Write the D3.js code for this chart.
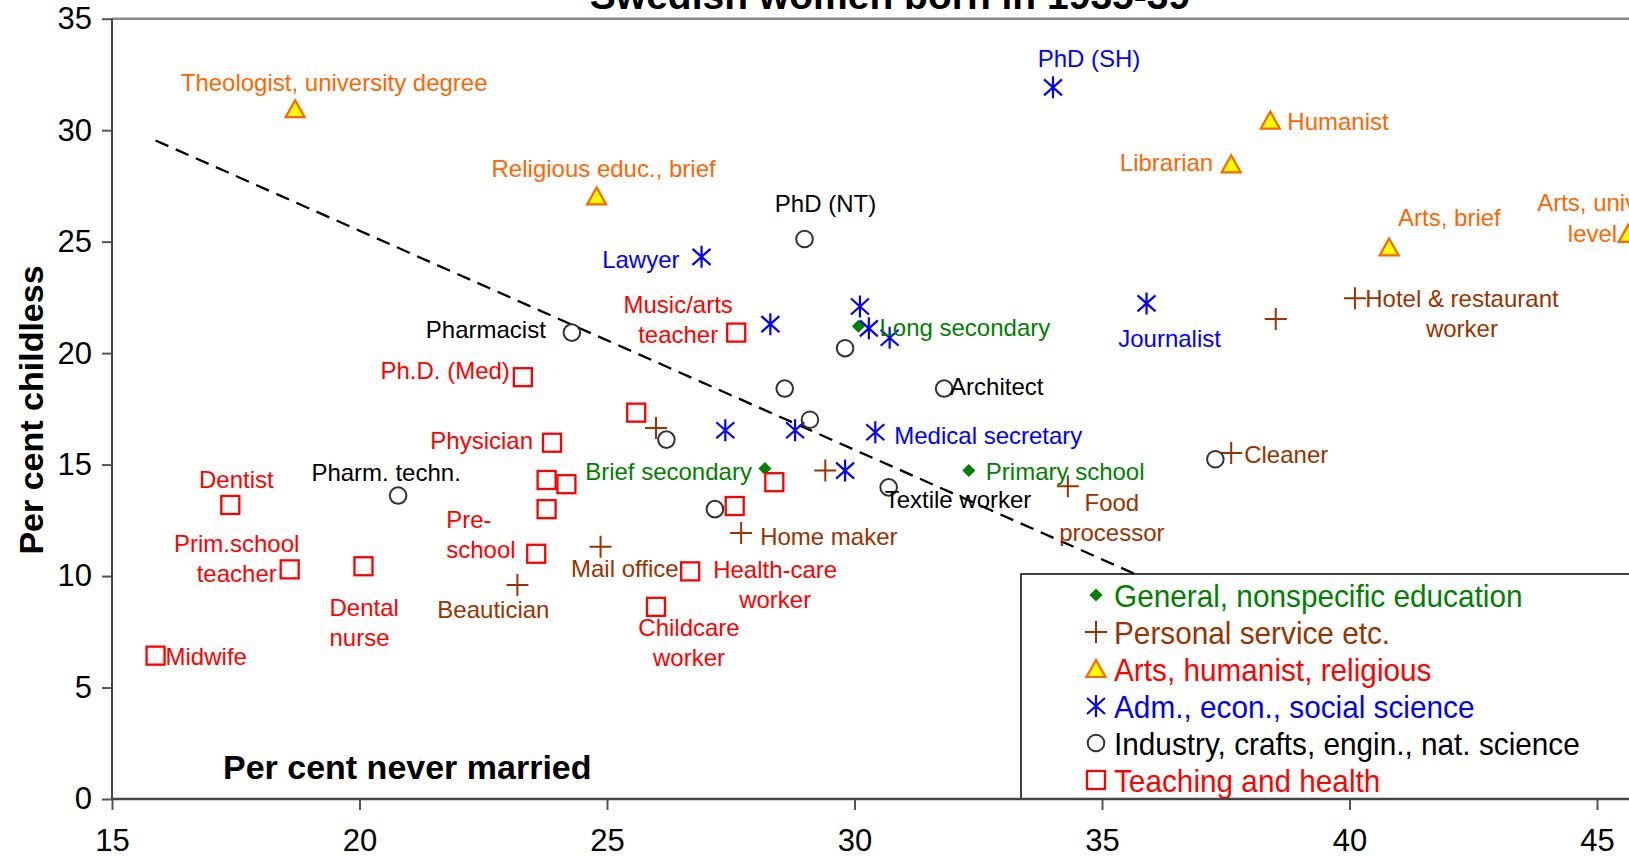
<!DOCTYPE html>
<html>
<head>
<meta charset="utf-8">
<script src="https://cdn.jsdelivr.net/npm/d3@7"></script>
<style>
  html, body { margin: 0; padding: 0; background: #fff; overflow: hidden; }
  text { font-family: "Liberation Sans", Arial, sans-serif; }
</style>
</head>
<body>
<div id="chart"></div>
<script>
// data: [label, per cent never married, per cent childless]
// "|" splits a label over two lines
var general = [
  ["Long secondary", 30.08, 21.2],
  ["Brief secondary", 28.19, 14.82],
  ["Primary school", 32.31, 14.73]
];
var personal = [
  ["Hotel & restaurant|worker", 40.11, 22.46],
  ["", 38.51, 21.53],
  ["Cleaner", 37.61, 15.52],
  ["", 25.99, 16.64],
  ["", 29.41, 14.73],
  ["Food|processor", 34.31, 14.03],
  ["Home maker", 27.71, 11.93],
  ["Mail office", 24.87, 11.32],
  ["Beautician", 23.19, 9.6]
];
var arts = [
  ["Theologist, university degree", 18.7, 30.94],
  ["Religious educ., brief", 24.79, 27.03],
  ["Humanist", 38.4, 30.43],
  ["Librarian", 37.61, 28.47],
  ["Arts, brief", 40.8, 24.74],
  ["Arts, university|level", 45.63, 25.35]
];
var adm = [
  ["PhD (SH)", 34.01, 31.92],
  ["Lawyer", 26.91, 24.32],
  ["Journalist", 35.9, 22.23],
  ["", 28.3, 21.3],
  ["", 30.11, 22.09],
  ["", 30.29, 21.11],
  ["", 30.71, 20.69],
  ["", 27.39, 16.54],
  ["", 28.8, 16.54],
  ["Medical secretary", 30.42, 16.45],
  ["", 29.81, 14.73]
];
var industry = [
  ["PhD (NT)", 28.99, 25.12],
  ["Pharmacist", 24.29, 20.92],
  ["", 29.81, 20.22],
  ["", 28.59, 18.41],
  ["Architect", 31.81, 18.41],
  ["", 29.1, 17.01],
  ["", 26.2, 16.12],
  ["Pharm. techn.", 20.78, 13.61],
  ["", 27.18, 13.0],
  ["Textile worker", 30.69, 13.98],
  ["", 37.29, 15.24]
];
var teaching = [
  ["Music/arts|teacher", 27.61, 20.92],
  ["Ph.D. (Med)", 23.3, 18.92],
  ["", 25.59, 17.33],
  ["Physician", 23.89, 15.98],
  ["", 23.78, 14.31],
  ["", 24.18, 14.12],
  ["", 23.78, 13.0],
  ["", 28.38, 14.21],
  ["", 27.58, 13.14],
  ["Dentist", 17.39, 13.19],
  ["Pre-|school", 23.57, 11.0],
  ["Prim.school|teacher", 18.59, 10.3],
  ["Dental|nurse", 20.08, 10.44],
  ["Health-care|worker", 26.68, 10.21],
  ["Childcare|worker", 25.99, 8.62],
  ["Midwife", 15.88, 6.43]
];
var trendX = [15.88, 38];
var trendY = [29.54, 7.8];

var xTicks = [15, 20, 25, 30, 35, 40, 45];
var yTicks = [0, 5, 10, 15, 20, 25, 30, 35];
var legendLabels = [
  "General, nonspecific education",
  "Personal service etc.",
  "Arts, humanist, religious",
  "Adm., econ., social science",
  "Industry, crafts, engin., nat. science",
  "Teaching and health"
];

// label placement: [dx, dy, anchor] per line, in pixels from the marker
var labelPos = {
  "Theologist, university degree": [[39, -18, "middle"]],
  "Religious educ., brief": [[7, -19, "middle"]],
  "Humanist": [[17, 9, "start"]],
  "Librarian": [[-18, 7, "end"]],
  "Arts, brief": [[9, -21, "start"]],
  "Arts, university|level": [[-91, -23, "start"], [-11, 8, "end"]],
  "PhD (SH)": [[36, -20, "middle"]],
  "Lawyer": [[-22, 11, "end"]],
  "Journalist": [[23, 44, "middle"]],
  "Medical secretary": [[19, 12, "start"]],
  "PhD (NT)": [[21, -27, "middle"]],
  "Pharmacist": [[-26, 5, "end"]],
  "Architect": [[6, 6, "start"]],
  "Pharm. techn.": [[-12, -15, "middle"]],
  "Textile worker": [[-4, 21, "start"]],
  "Hotel & restaurant|worker": [[107, 9, "middle"], [107, 39, "middle"]],
  "Cleaner": [[13, 10, "start"]],
  "Food|processor": [[44, 25, "middle"], [44, 55, "middle"]],
  "Home maker": [[19, 12, "start"]],
  "Mail office": [[78, 30, "end"]],
  "Beautician": [[-24, 33, "middle"]],
  "Long secondary": [[21, 10, "start"]],
  "Brief secondary": [[-13, 11, "end"]],
  "Primary school": [[17, 9, "start"]],
  "Music/arts|teacher": [[-58, -20, "middle"], [-58, 10, "middle"]],
  "Ph.D. (Med)": [[-13, 2, "end"]],
  "Physician": [[-19, 6, "end"]],
  "Dentist": [[6, -17, "middle"]],
  "Pre-|school": [[-90, -26, "start"], [-90, 4, "start"]],
  "Prim.school|teacher": [[-53, -17, "middle"], [-53, 13, "middle"]],
  "Dental|nurse": [[-34, 50, "start"], [-34, 80, "start"]],
  "Health-care|worker": [[85, 7, "middle"], [85, 37, "middle"]],
  "Childcare|worker": [[33, 29, "middle"], [33, 59, "middle"]],
  "Midwife": [[10, 9, "start"]]
};

var W = 1629, H = 858;
var svg = d3.select('#chart').append('svg')
  .attr('width', W).attr('height', H);

var x = d3.scaleLinear().domain([15, 45]).range([112, 1597]);
var y = d3.scaleLinear().domain([0, 35]).range([799, 18.7]);

// marker shapes
function marker(g, kind) {
  if (kind == 'diamond') {
    g.append('path').attr('d', 'M0,-6.5L6.5,0L0,6.5L-6.5,0Z').attr('fill', '#008000');
  } else if (kind == 'plus') {
    g.append('path').attr('d', 'M-11,0H11M0,-11V11')
      .attr('stroke', '#993300').attr('stroke-width', 2).attr('fill', 'none');
  } else if (kind == 'triangle') {
    g.append('path').attr('d', 'M0,-9L9.5,8L-9.5,8Z')
      .attr('fill', '#ffff00').attr('stroke', '#ff6600').attr('stroke-width', 2.2);
  } else if (kind == 'asterisk') {
    g.append('path').attr('d', 'M0,-11V11M-9,-8L9,8M-9,8L9,-8')
      .attr('stroke', '#0000ff').attr('stroke-width', 2.2).attr('fill', 'none');
  } else if (kind == 'circle') {
    g.append('circle').attr('r', 8.3)
      .attr('stroke', '#333').attr('stroke-width', 2).attr('fill', 'none');
  } else if (kind == 'square') {
    g.append('rect').attr('x', -9).attr('y', -9).attr('width', 18).attr('height', 18)
      .attr('stroke', '#ff0000').attr('stroke-width', 2.3).attr('fill', 'none');
  }
}

var series = [
  {data: general, kind: 'diamond', color: '#008000'},
  {data: personal, kind: 'plus', color: '#993300'},
  {data: arts, kind: 'triangle', color: '#ff6600'},
  {data: adm, kind: 'asterisk', color: '#0000ff'},
  {data: industry, kind: 'circle', color: '#000000'},
  {data: teaching, kind: 'square', color: '#ff0000'}
];
var legendColors = ['#008000', '#993300', '#ff0000', '#0000ff', '#000000', '#ff0000'];

// axes
svg.append('line').attr('x1', 112).attr('x2', W).attr('y1', 18.7).attr('y2', 18.7)
  .attr('stroke', '#8a8a8a').attr('stroke-width', 2.5);

var yAxis = svg.append('g').attr('transform', 'translate(112,0)')
  .call(d3.axisLeft(y).tickValues(yTicks).tickSize(10).tickSizeOuter(0).tickPadding(10));
var xAxis = svg.append('g').attr('transform', 'translate(0,799)')
  .call(d3.axisBottom(x).tickValues(xTicks).tickSize(11).tickSizeOuter(0).tickPadding(19));
[yAxis, xAxis].forEach(function(a){
  a.select('.domain').remove();
  a.selectAll('.tick line').attr('stroke', '#555').attr('stroke-width', 2);
  a.selectAll('.tick text').attr('font-size', '31px').attr('fill', '#000')
    .attr('font-family', '"Liberation Sans", Arial, sans-serif');
});
svg.append('line').attr('x1', 112).attr('x2', 112).attr('y1', 18.7).attr('y2', 799)
  .attr('stroke', '#444').attr('stroke-width', 2);

// trend line
svg.append('path')
  .attr('d', d3.line()([[x(trendX[0]), y(trendY[0])], [x(trendX[1]), y(trendY[1])]]))
  .attr('stroke', '#000').attr('stroke-width', 2.3).attr('stroke-dasharray', '14,8')
  .attr('fill', 'none');

// points
series.forEach(function(s){
  var pts = svg.append('g').selectAll('g').data(s.data).enter().append('g')
    .attr('transform', function(d){ return 'translate(' + x(d[1]) + ',' + y(d[2]) + ')'; });
  pts.each(function(){ marker(d3.select(this), s.kind); });
});

// labels
series.forEach(function(s){
  s.data.forEach(function(d){
    if (!d[0]) return;
    var lines = d[0].split('|');
    var pos = labelPos[d[0]];
    lines.forEach(function(t, i){
      svg.append('text')
        .text(t)
        .attr('x', x(d[1]) + pos[i][0])
        .attr('y', y(d[2]) + pos[i][1])
        .attr('text-anchor', pos[i][2])
        .attr('font-size', '24px')
        .attr('fill', s.color);
    });
  });
});

// axis titles
svg.append('text').text('Per cent never married')
  .attr('x', 223).attr('y', 779)
  .attr('font-size', '34px').attr('font-weight', 'bold');
svg.append('text').text('Per cent childless')
  .attr('transform', 'translate(43,410) rotate(-90)')
  .attr('text-anchor', 'middle')
  .attr('font-size', '34px').attr('font-weight', 'bold');

// title, mostly above the top of the picture
svg.append('text').text('Swedish women born in 1935-39')
  .attr('x', 890).attr('y', 8.5).attr('text-anchor', 'middle')
  .attr('font-size', '39px').attr('font-weight', 'bold');

// legend
var legend = svg.append('g');
legend.append('rect').attr('x', 1021).attr('y', 574).attr('width', 640).attr('height', 225)
  .attr('fill', '#fff').attr('stroke', '#000').attr('stroke-width', 1.5);
legendLabels.forEach(function(t, i){
  var cy = 595 + i * 37;
  var g = legend.append('g').attr('transform', 'translate(1096,' + cy + ')');
  marker(g, series[i].kind);
  legend.append('text').text(t)
    .attr('transform', 'translate(1114,' + (cy + 11.5) + ') scale(0.93,1)')
    .attr('font-size', '32px').attr('fill', legendColors[i]);
});
// bottom axis line over legend edge
svg.append('line').attr('x1', 112).attr('x2', W).attr('y1', 799).attr('y2', 799)
  .attr('stroke', '#444').attr('stroke-width', 2.5);
</script>
</body>
</html>
